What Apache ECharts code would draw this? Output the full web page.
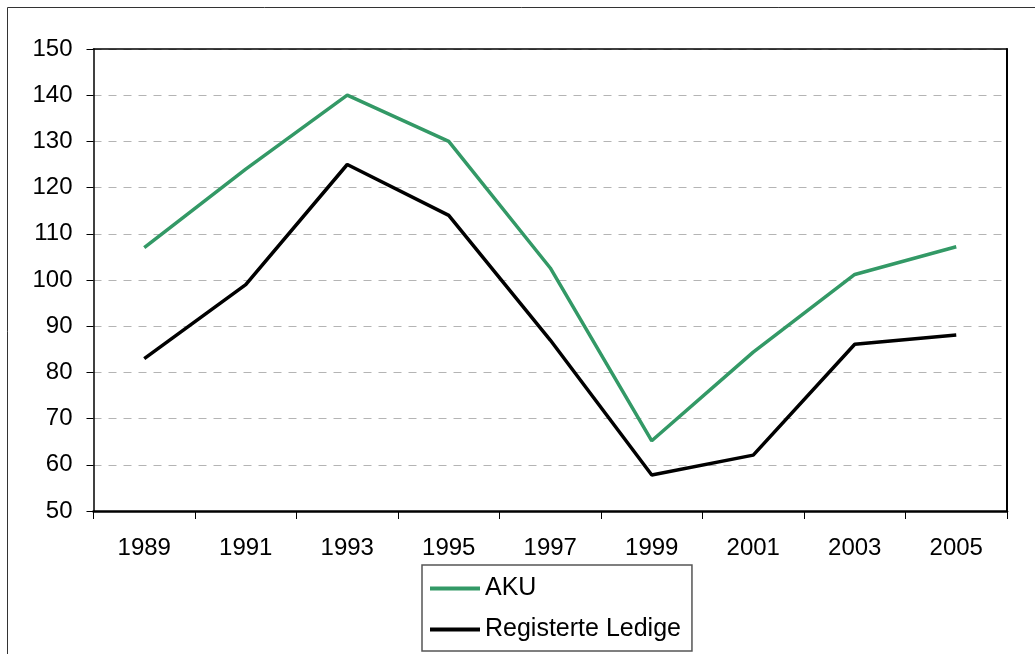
<!DOCTYPE html>
<html>
<head>
<meta charset="utf-8">
<title>AKU / Registerte Ledige</title>
<script src="https://cdn.jsdelivr.net/npm/echarts@6/dist/echarts.min.js"></script>
<style>
  html, body { margin: 0; padding: 0; background: #fff; }
  #main { width: 1035px; height: 654px; }
</style>
</head>
<body>
<div id="main"></div>
<script>
// data
var years = ['1989', '1991', '1993', '1995', '1997', '1999', '2001', '2003', '2005'];
var aku = [107, 124, 140, 130, 102.6, 65.2, 84.4, 101.2, 107.2];
var registerte = [83, 99, 125, 114, 87, 57.8, 62.1, 86.1, 88.1];
var seriesNames = ['AKU', 'Registerte Ledige'];

var font = 'Arial, "Liberation Sans", sans-serif';

var chart = echarts.init(document.getElementById('main'), null, { renderer: 'canvas' });

var option = {
  backgroundColor: '#ffffff',
  animation: false,
  textStyle: { fontFamily: font, color: '#000' },
  // outer frame of the chart box
  graphic: [
    {
      type: 'rect',
      shape: { x: 7.5, y: 7.5, width: 1100, height: 700 },
      style: { fill: 'none', stroke: '#333', lineWidth: 1 },
      silent: true
    }
  ],
  grid: {
    left: 93.5,
    right: 28,
    top: 49,
    bottom: 143,
    show: false,
    containLabel: false
  },
  legend: {
    orient: 'vertical',
    left: 422,
    top: 565,
    padding: [11, 11, 9, 8],
    itemGap: 16,
    itemWidth: 50,
    itemHeight: 4,
    itemTextGap: 7,
    icon: 'rect',
    borderColor: '#555',
    borderWidth: 1.5,
    borderRadius: 0,
    data: seriesNames,
    textStyle: { fontFamily: font, fontSize: 25, lineHeight: 24, color: '#000' }
  },
  xAxis: [
    {
      type: 'category',
      data: years,
      boundaryGap: true,
      axisLine: { lineStyle: { color: '#000', width: 2.5 } },
      axisTick: { show: true, length: 8, lineStyle: { color: '#000', width: 1 } },
      axisLabel: { fontFamily: font, fontSize: 24, color: '#000', margin: 25 },
      splitLine: { show: false }
    },
    {
      // top frame line of the plot area
      type: 'category',
      data: years,
      position: 'top',
      axisLine: { show: true, lineStyle: { color: '#000', width: 1.5 } },
      axisTick: { show: false },
      axisLabel: { show: false },
      splitLine: { show: false }
    }
  ],
  yAxis: [
    {
      type: 'value',
      min: 50,
      max: 150,
      interval: 10,
      axisLine: { show: true, lineStyle: { color: '#000', width: 1.5 } },
      axisTick: { show: true, length: 7, lineStyle: { color: '#000', width: 1 } },
      axisLabel: { fontFamily: font, fontSize: 24, color: '#000', margin: 21 },
      splitLine: { show: true, lineStyle: { color: '#b4b4b4', width: 1, type: [8, 7] } }
    },
    {
      // right frame line of the plot area
      type: 'value',
      min: 50,
      max: 150,
      interval: 10,
      position: 'right',
      axisLine: { show: true, lineStyle: { color: '#000', width: 2 } },
      axisTick: { show: false },
      axisLabel: { show: false },
      splitLine: { show: false }
    }
  ],
  series: [
    {
      name: seriesNames[0],
      type: 'line',
      data: aku,
      symbol: 'none',
      lineStyle: { color: '#339966', width: 3.5 },
      itemStyle: { color: '#339966' }
    },
    {
      name: seriesNames[1],
      type: 'line',
      data: registerte,
      symbol: 'none',
      lineStyle: { color: '#000000', width: 3.5 },
      itemStyle: { color: '#000000' }
    }
  ]
};

chart.setOption(option);
</script>
</body>
</html>
